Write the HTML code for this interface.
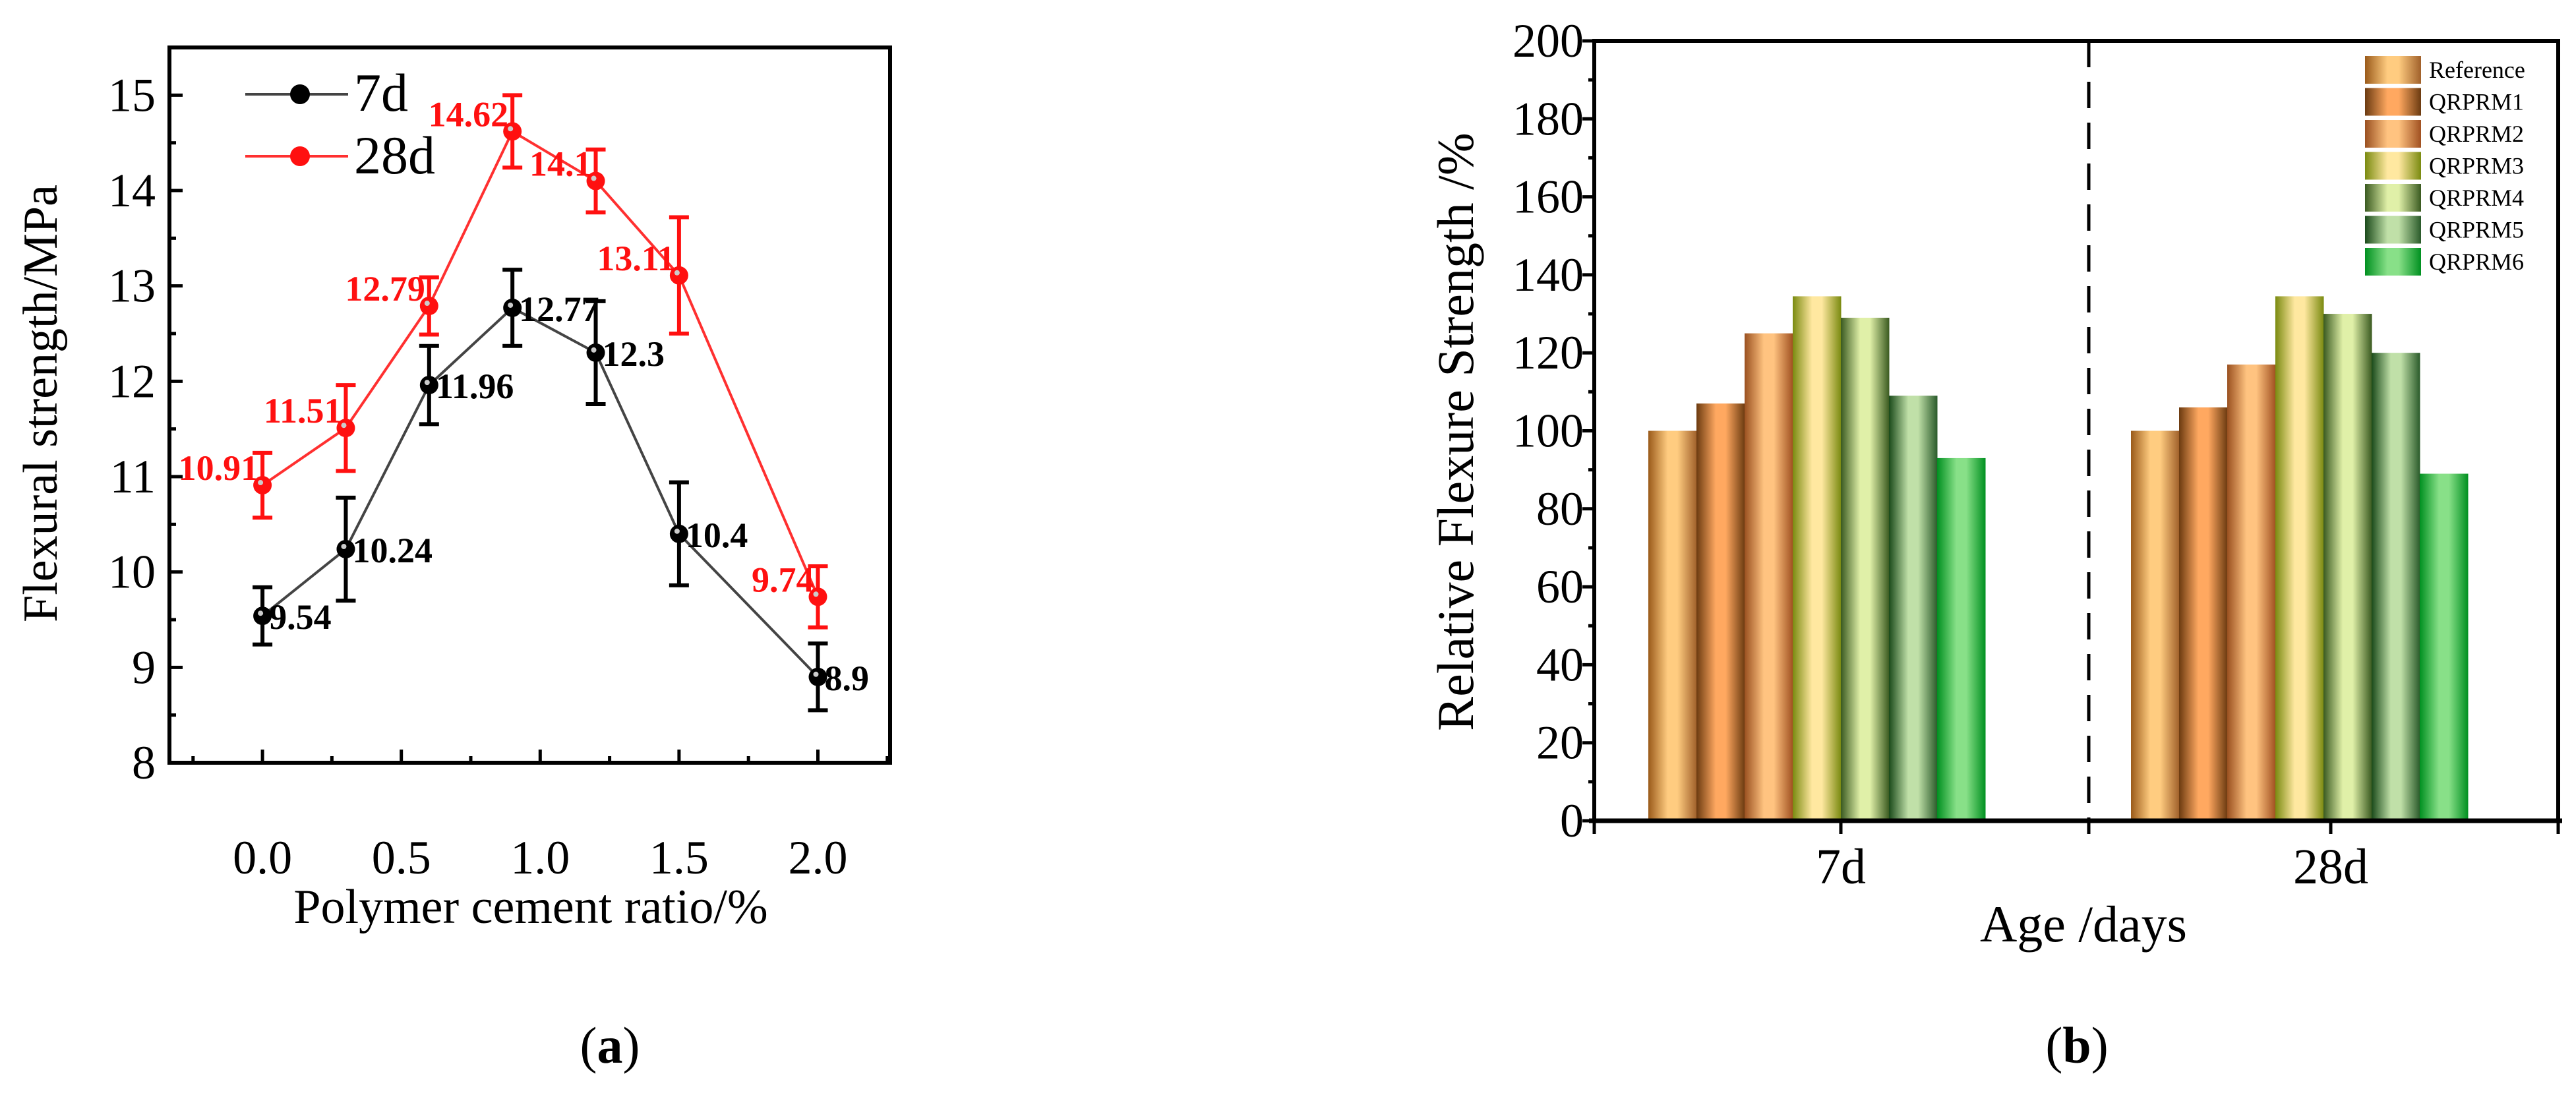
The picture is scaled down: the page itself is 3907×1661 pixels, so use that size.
<!DOCTYPE html>
<html><head><meta charset="utf-8"><style>
html,body{margin:0;padding:0;background:#fff;}
svg{display:block;font-family:"Liberation Serif",serif;}
</style></head><body>
<svg id="fig" width="3907" height="1661" viewBox="0 0 3907 1661" xmlns="http://www.w3.org/2000/svg">
<defs id="defs"></defs>
<g id="chartA"></g>
<g id="chartB"></g>
<text x="925" y="1612" font-size="78" text-anchor="middle">(<tspan font-weight="bold">a</tspan>)</text>
<text x="3150" y="1612" font-size="78" text-anchor="middle">(<tspan font-weight="bold">b</tspan>)</text>
</svg>
<script>
// ---------- Chart A data ----------
const ratioX = [0, 0.3, 0.6, 0.9, 1.2, 1.5, 2.0];
const strength7d = [9.54, 10.24, 11.96, 12.77, 12.3, 10.4, 8.9];
const err7d = [0.3, 0.54, 0.41, 0.4, 0.54, 0.54, 0.35];
const strength28d = [10.91, 11.51, 12.79, 14.62, 14.1, 13.11, 9.74];
const err28d = [0.34, 0.45, 0.3, 0.38, 0.33, 0.61, 0.32];
const label7d = ["9.54", "10.24", "11.96", "12.77", "12.3", "10.4", "8.9"];
const label28d = ["10.91", "11.51", "12.79", "14.62", "14.1", "13.11", "9.74"];
const yTicksA = [8, 9, 10, 11, 12, 13, 14, 15];
const xTicksA = [0.0, 0.5, 1.0, 1.5, 2.0];
const xTickLabelsA = ["0.0", "0.5", "1.0", "1.5", "2.0"];

// ---------- Chart B data ----------
const ages = ["7d", "28d"];
const seriesNames = ["Reference", "QRPRM1", "QRPRM2", "QRPRM3", "QRPRM4", "QRPRM5", "QRPRM6"];
const rel7d = [100, 107, 125, 134.5, 129, 109, 93];
const rel28d = [100, 106, 117, 134.5, 130, 120, 89];
const yTicksB = [0, 20, 40, 60, 80, 100, 120, 140, 160, 180, 200];

const NS = "http://www.w3.org/2000/svg";
function mk(tag, attrs, parent) {
  const e = document.createElementNS(NS, tag);
  for (const k in attrs) e.setAttribute(k, attrs[k]);
  parent.appendChild(e);
  return e;
}

// ===== Chart A =====
const A = document.getElementById("chartA");
const aL = 257, aR = 1350, aT = 72, aB = 1157;
const axMin = -0.335, axMax = 2.26, ayMin = 8, ayMax = 15.5;
const ax = v => aL + (v - axMin) / (axMax - axMin) * (aR - aL);
const ay = v => aB - (v - ayMin) / (ayMax - ayMin) * (aB - aT);

for (let v = 8; v <= 15.5; v += 0.5) {
  const major = Number.isInteger(v);
  const t = mk("line", {x1: aL, x2: aL + (major ? 20 : 10), y1: ay(v), y2: ay(v), stroke: "#000", "stroke-width": 5}, A);
  
  
}
yTicksA.forEach(v => {
  const t = mk("text", {x: 236, y: ay(v) + 24, "font-size": 72, "text-anchor": "end"}, A);
  t.textContent = String(v);
  
  
});
for (let v = -0.25; v <= 2.25; v += 0.25) {
  const major = Math.abs(v * 2 - Math.round(v * 2)) < 1e-6;
  const t = mk("line", {x1: ax(v), x2: ax(v), y1: aB, y2: aB - (major ? 20 : 10), stroke: "#000", "stroke-width": 5}, A);
  
  
}
xTicksA.forEach((v, i) => {
  const t = mk("text", {x: ax(v), y: 1325, "font-size": 72, "text-anchor": "middle"}, A);
  t.textContent = xTickLabelsA[i];
  
  
});
const frameA = mk("rect", {x: aL, y: aT, width: aR - aL, height: aB - aT, fill: "none", stroke: "#000", "stroke-width": 6}, A);



const xt = mk("text", {x: 805, y: 1400, "font-size": 74, "text-anchor": "middle"}, A);
xt.textContent = "Polymer cement ratio/%";


const yt = mk("text", {x: 0, y: 0, "font-size": 74, "text-anchor": "middle", transform: "translate(86,612) rotate(-90)"}, A);
yt.textContent = "Flexural strength/MPa";



function drawSeries(vals, errs, labels, color, lineColor, name, labelRight) {
  const g = mk("g", {}, A);
  
  
  const pts = vals.map((v, i) => ax(ratioX[i]) + "," + ay(v)).join(" ");
  const pl = mk("polyline", {points: pts, fill: "none", stroke: lineColor, "stroke-width": 4}, g);
  
  
  vals.forEach((v, i) => {
    const x = ax(ratioX[i]);
    const e = mk("path", {d: `M${x},${ay(v - errs[i])}V${ay(v + errs[i])}M${x - 15},${ay(v + errs[i])}H${x + 15}M${x - 15},${ay(v - errs[i])}H${x + 15}`, stroke: color, "stroke-width": 6, fill: "none"}, g);
    
    
    const c = mk("circle", {cx: x, cy: ay(v), r: 14, fill: color}, g);
    
    
    const h = mk("circle", {cx: x - 3, cy: ay(v) - 4, r: 4, fill: "#ccc"}, g);
    
    
    const t = labelRight
      ? mk("text", {x: x + 10, y: ay(v) + 20, "font-size": 54, "font-weight": "bold", fill: color}, g)
      : mk("text", {x: x - 6, y: ay(v) - 8, "font-size": 54, "font-weight": "bold", fill: color, "text-anchor": "end"}, g);
    t.textContent = labels[i];
    
    
  });
}
drawSeries(strength28d, err28d, label28d, "#ff1010", "#ff3030", "28d", false);
drawSeries(strength7d, err7d, label7d, "#000", "#444", "7d", true);

[["7d", "#000", "#444", 143, 168], ["28d", "#ff1010", "#ff3030", 237, 263]].forEach(r => {
  const g = mk("g", {}, A);
  
  
  mk("line", {x1: 372, x2: 528, y1: r[3], y2: r[3], stroke: r[2], "stroke-width": 4}, g);
  mk("circle", {cx: 455, cy: r[3], r: 15, fill: r[1]}, g);
  const t = mk("text", {x: 537, y: r[4], "font-size": 82}, g);
  t.textContent = r[0];
});

// ===== Chart B =====
const B = document.getElementById("chartB");
const defs = document.getElementById("defs");
const bL = 2418, bR = 3880, bT = 62, bB = 1245;
const byMax = 200;
const by = v => bB - v / byMax * (bB - bT);
const groupStarts = [2500, 3232];
const tickCenters = [2792, 3535];
const barW = 73;
const grad = [
  ["#9a5a1a", "#ffcc80", "#a0602a"],
  ["#6b3a10", "#ffa860", "#6b3a10"],
  ["#9a5020", "#ffc380", "#a05020"],
  ["#7a8a10", "#ffe8a0", "#7a8a10"],
  ["#3a5a20", "#e0f0a8", "#3a5a20"],
  ["#1a4a1a", "#c0e0a8", "#2a5a2a"],
  ["#009020", "#88e088", "#009020"]
];
grad.forEach((c, i) => {
  const lg = mk("linearGradient", {id: "g" + i, x1: 0, x2: 1, y1: 0, y2: 0}, defs);
  mk("stop", {offset: "0", "stop-color": c[0]}, lg);
  mk("stop", {offset: "0.4", "stop-color": c[1]}, lg);
  mk("stop", {offset: "0.6", "stop-color": c[1]}, lg);
  mk("stop", {offset: "1", "stop-color": c[2]}, lg);
});
[rel7d, rel28d].forEach((vals, gi) => {
  vals.forEach((v, i) => {
    const x = groupStarts[gi] + i * barW;
    const r = mk("rect", {x: x, y: by(v), width: barW + 0.5, height: bB - by(v), fill: `url(#g${i})`}, B);
    
    
  });
});
const dv = mk("line", {x1: 3168, x2: 3168, y1: bT, y2: bB, stroke: "#000", "stroke-width": 5, "stroke-dasharray": "40 22"}, B);


const fB = mk("path", {d: `M${bL},${bB}V${bT}H${bR}V${bB}`, fill: "none", stroke: "#000", "stroke-width": 6}, B);


const xa = mk("line", {x1: bL - 8, x2: bR + 6, y1: bB, y2: bB, stroke: "#000", "stroke-width": 7}, B);


for (let v = 0; v <= 200; v += 10) {
  const major = v % 20 === 0;
  const t = mk("line", {x1: bL - (major ? 18 : 9), x2: bL, y1: by(v), y2: by(v), stroke: "#000", "stroke-width": 5}, B);
  
  
}
yTicksB.forEach(v => {
  const t = mk("text", {x: 2402, y: by(v) + 24, "font-size": 72, "text-anchor": "end"}, B);
  t.textContent = String(v);
  
  
});
[bL, tickCenters[0], 3168, tickCenters[1], bR].forEach(x => {
  const t = mk("line", {x1: x, x2: x, y1: bB, y2: bB + 20, stroke: "#000", "stroke-width": 5}, B);
  
  
});
ages.forEach((a, i) => {
  const t = mk("text", {x: tickCenters[i], y: 1340, "font-size": 76, "text-anchor": "middle"}, B);
  t.textContent = a;
  
  
});
const xtb = mk("text", {x: 3160, y: 1428, "font-size": 78, "text-anchor": "middle"}, B);
xtb.textContent = "Age /days";


const ytb = mk("text", {x: 0, y: 0, "font-size": 78, "text-anchor": "middle", transform: "translate(2234,655) rotate(-90)"}, B);
ytb.textContent = "Relative Flexure Strength /%";


seriesNames.forEach((n, i) => {
  const top = 85 + i * 48.5;
  const g = mk("g", {}, B);
  
  
  mk("rect", {x: 3587, y: top, width: 85, height: 42, fill: `url(#g${i})`}, g);
  const t = mk("text", {x: 3684, y: top + 33, "font-size": 36}, g);
  t.textContent = n;
});
</script>
</body></html>
